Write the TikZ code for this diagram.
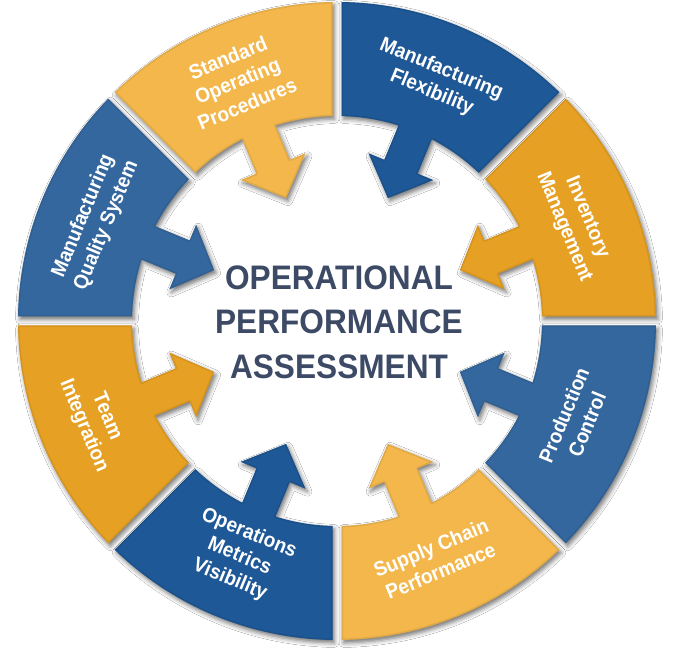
\documentclass[tikz,border=0pt]{standalone}
\usepackage{fontspec}
\setmainfont{Liberation Sans}[FakeStretch=0.93]
\usetikzlibrary{shadows.blur}
\definecolor{ylight}{HTML}{F3B74C}
\definecolor{ydark}{HTML}{E6A023}
\definecolor{bdark}{HTML}{1E5896}
\definecolor{bmid}{HTML}{34679E}
\definecolor{titlec}{HTML}{3D4A66}
\tikzset{
  segshadow/.style={blur shadow={shadow xshift=2pt, shadow yshift=-3pt, shadow blur radius=4.5pt, shadow opacity=55}},
  segtext/.style={text=white, font=\bfseries\fontsize{20.5}{25}\selectfont, align=center},
  titletext/.style={text=titlec, font=\bfseries\fontsize{34}{44.5}\selectfont, align=center},
  segpath/.style={insert path={
    ({#1-21.692}:319) arc[start angle={#1-21.692}, end angle={#1+21.692}, radius=319pt]
    -- ({#1+21.242}:205) arc[start angle={#1+21.242}, end angle={#1+5.04}, radius=205pt]
    -- ({#1+6.152}:167.97) -- ({#1+11.836}:170.63) -- (#1:133)
    -- ({#1-11.836}:170.63) -- ({#1-6.152}:167.97)
    -- ({#1-5.04}:205) arc[start angle={#1-5.04}, end angle={#1-21.242}, radius=205pt] -- cycle}}
}
\begin{document}
\begin{tikzpicture}[x=1pt,y=1pt]
\useasboundingbox (0,0) rectangle (674,660);
\fill[white] (0,0) rectangle (674,660);
\coordinate (C) at (337,339);
\begin{scope}[shift={(C)}]
  % shadows first
  \foreach \a in {112.5,67.5,22.5,-22.5,-67.5,-112.5,-157.5,157.5}
    \path[segshadow, segpath=\a];
  % fills with a soft inner rim
  \foreach \a/\c in {112.5/ylight,67.5/bdark,22.5/ydark,-22.5/bmid,-67.5/ylight,-112.5/bdark,-157.5/ydark,157.5/bmid}
  {
    \fill[\c, segpath=\a];
    \begin{scope}
      \clip[segpath=\a];
      \draw[\c!80!black, line width=3pt, opacity=0.35, line join=round, segpath=\a];
    \end{scope}
  }
  % labels
  \node[segtext, rotate=22.5]  (sop) at (112.5:260) {Standard\\Operating\\Procedures};
  \node[segtext, rotate=-22.5] (mf)  at (67.5:260)  {Manufacturing\\Flexibility};
  \node[segtext, rotate=-67.5] (im)  at (22.5:258)  {Inventory\\Management};
  \node[segtext, rotate=67.5]  (pc)  at (-22.5:258) {Production\\Control};
  \node[segtext, rotate=22.5]  (scp) at (-67.5:258) {Supply Chain\\Performance};
  \node[segtext, rotate=-22.5] (omv) at (-112.5:255) {Operations\\Metrics\\Visibility};
  \node[segtext, rotate=-67.5] (ti)  at (-157.5:262) {Team\\Integration};
  \node[segtext, rotate=67.5]  (mqs) at (157.5:262) {Manufacturing\\Quality System};
\end{scope}
\node[titletext] (title) at (339,338) {OPERATIONAL\\PERFORMANCE\\ASSESSMENT};
\end{tikzpicture}
\end{document}
